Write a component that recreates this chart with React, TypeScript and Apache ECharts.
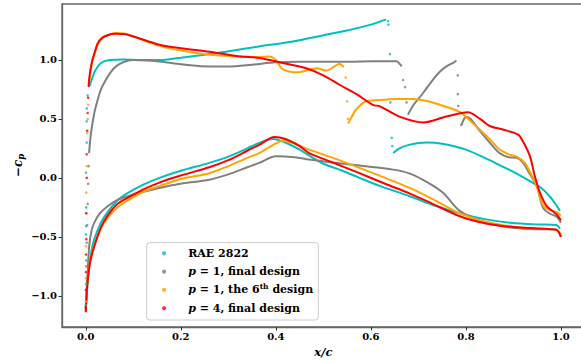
import React, { useEffect, useRef } from "react";
import * as echarts from "echarts";

// ---- tick labels ----
const xTicks = [0, 0.2, 0.4, 0.6, 0.8, 1.0];
const yTicks = [-1.0, -0.5, 0.0, 0.5, 1.0];

// ---- series names / colours ----
const names = ["RAE 2822", "p1final", "p1sixth", "p4final"];
const colors = ["#00bfbf", "#808080", "#ffa500", "#ff0000"];

// ---- RAE 2822 (cyan) ----
const cyanLE = [[0.0, -1.08], [0.0005, -0.9], [0.001, -0.7], [0.0005, -0.48], [0.001, -0.41], [0.001, -0.25], [0.0005, 0.045], [0.002, 0.3], [0.002, 0.48], [0.002, 0.59], [0.004, 0.7]];
const cyanUpper = [[0.008, 0.78], [0.014, 0.85], [0.02, 0.91], [0.032, 0.975], [0.05, 1.0], [0.08, 1.005], [0.12, 1.0], [0.155, 1.0], [0.2, 1.02], [0.25, 1.045], [0.295, 1.07], [0.365, 1.115], [0.436, 1.157], [0.5, 1.21], [0.55, 1.25], [0.6, 1.3], [0.632, 1.345]];
const cyanShock = [[0.636, 1.33], [0.637, 1.3], [0.64, 1.05], [0.641, 0.64], [0.644, 0.34], [0.645, 0.27]];
const cyanAft = [[0.647, 0.21], [0.66, 0.25], [0.68, 0.28], [0.717, 0.3], [0.75, 0.29], [0.8, 0.24], [0.85, 0.15], [0.87, 0.11], [0.9, 0.05], [0.94, -0.04], [0.96, -0.09], [0.977, -0.16], [0.99, -0.23], [0.998, -0.28]];
const cyanLower = [[0.0, -1.12], [0.002, -1.0], [0.004, -0.88], [0.007, -0.76], [0.011, -0.64], [0.018, -0.52], [0.032, -0.38], [0.046, -0.29], [0.067, -0.19], [0.088, -0.13], [0.12, -0.06], [0.155, 0.0], [0.2, 0.06], [0.26, 0.127], [0.3, 0.18], [0.34, 0.25], [0.365, 0.297], [0.394, 0.33], [0.42, 0.3], [0.45, 0.24], [0.47, 0.19], [0.5, 0.12], [0.54, 0.06], [0.576, 0.0], [0.62, -0.07], [0.682, -0.156], [0.73, -0.23], [0.787, -0.3], [0.84, -0.35], [0.893, -0.38], [0.95, -0.395], [0.99, -0.4], [0.998, -0.43]];

// ---- p = 1, final design (gray) ----
const grayLE = [[0.0005, -0.95], [0.001, -0.75], [0.002, -0.55], [0.003, -0.4], [0.004, -0.22], [0.005, -0.05], [0.006, 0.1]];
const grayUpper = [[0.007, 0.21], [0.011, 0.38], [0.018, 0.55], [0.025, 0.66], [0.032, 0.75], [0.042, 0.83], [0.053, 0.9], [0.065, 0.95], [0.081, 0.985], [0.098, 1.0], [0.13, 0.995], [0.18, 0.975], [0.22, 0.955], [0.26, 0.945], [0.3, 0.945], [0.35, 0.96], [0.4, 0.98], [0.45, 0.985], [0.5, 0.985], [0.55, 0.985], [0.6, 0.99], [0.654, 0.99], [0.66, 0.97], [0.665, 0.946]];
const grayShock1 = [[0.668, 0.83], [0.672, 0.77], [0.675, 0.64]];
const grayMid = [[0.678, 0.536], [0.69, 0.62], [0.71, 0.72], [0.73, 0.83], [0.745, 0.9], [0.759, 0.946], [0.775, 0.98], [0.78, 0.997]];
const grayShock2 = [[0.783, 0.87], [0.783, 0.71], [0.784, 0.61], [0.79, 0.45]];
const grayAft = [[0.791, 0.45], [0.796, 0.5], [0.801, 0.517], [0.81, 0.5], [0.829, 0.4], [0.85, 0.3], [0.871, 0.21], [0.89, 0.175], [0.907, 0.17], [0.92, 0.13], [0.935, 0.03], [0.949, -0.07], [0.962, -0.25], [0.975, -0.3], [0.991, -0.33], [1.0, -0.38]];
const grayLower = [[0.0, -1.1], [0.002, -0.95], [0.004, -0.8], [0.006, -0.65], [0.008, -0.55], [0.012, -0.45], [0.018, -0.38], [0.03, -0.3], [0.046, -0.24], [0.065, -0.19], [0.085, -0.16], [0.12, -0.12], [0.155, -0.085], [0.2, -0.05], [0.26, -0.015], [0.3, 0.03], [0.34, 0.09], [0.365, 0.127], [0.4, 0.183], [0.44, 0.175], [0.47, 0.155], [0.52, 0.13], [0.576, 0.104], [0.647, 0.07], [0.682, 0.036], [0.72, -0.04], [0.752, -0.127], [0.787, -0.28], [0.84, -0.38], [0.893, -0.42], [0.95, -0.435], [0.99, -0.44], [1.0, -0.5]];

// ---- p = 1, the 6th design (orange) ----
const orangeLE = [[0.0, -1.05], [0.0, -0.85], [0.0005, -0.58], [0.001, -0.3], [0.001, -0.125], [0.002, 0.1], [0.003, 0.38], [0.004, 0.5], [0.005, 0.62]];
const orangeUpper = [[0.007, 0.8], [0.01, 0.9], [0.014, 0.99], [0.02, 1.07], [0.025, 1.13], [0.035, 1.185], [0.046, 1.21], [0.065, 1.228], [0.08, 1.225], [0.1, 1.2], [0.155, 1.12], [0.2, 1.08], [0.26, 1.045], [0.324, 1.03], [0.36, 1.025], [0.387, 1.03], [0.4, 1.0], [0.415, 0.92], [0.446, 0.895], [0.486, 0.93], [0.506, 0.91], [0.534, 0.966], [0.543, 0.94]];
const orangeShock = [[0.547, 0.85], [0.55, 0.65], [0.552, 0.5]];
const orangeAft = [[0.552, 0.46], [0.56, 0.52], [0.569, 0.58], [0.59, 0.65], [0.619, 0.66], [0.65, 0.67], [0.689, 0.67], [0.72, 0.65], [0.745, 0.62], [0.787, 0.56], [0.81, 0.48], [0.829, 0.41], [0.85, 0.33], [0.871, 0.24], [0.89, 0.2], [0.907, 0.18], [0.924, 0.127], [0.935, 0.05], [0.949, -0.07], [0.962, -0.23], [0.975, -0.27], [0.991, -0.29], [1.0, -0.32]];
const orangeLower = [[0.0, -1.13], [0.001, -1.04], [0.003, -0.91], [0.006, -0.79], [0.01, -0.69], [0.018, -0.57], [0.032, -0.43], [0.046, -0.34], [0.067, -0.25], [0.085, -0.2], [0.12, -0.12], [0.155, -0.07], [0.2, -0.01], [0.26, 0.04], [0.3, 0.1], [0.34, 0.17], [0.365, 0.21], [0.39, 0.27], [0.415, 0.316], [0.44, 0.29], [0.47, 0.24], [0.52, 0.17], [0.576, 0.085], [0.63, 0.0], [0.682, -0.085], [0.73, -0.18], [0.787, -0.3], [0.84, -0.37], [0.893, -0.41], [0.95, -0.43], [0.99, -0.44], [1.0, -0.48]];

// ---- p = 4, final design (red) ----
const redLE = [[0.0, -1.1], [0.0005, -0.95], [0.0005, -0.8], [0.0005, -0.65], [0.001, -0.52], [0.001, -0.3], [0.002, 0.0], [0.002, 0.2], [0.003, 0.4], [0.004, 0.55], [0.005, 0.68]];
const redUpper = [[0.006, 0.77], [0.007, 0.83], [0.01, 0.92], [0.014, 1.0], [0.02, 1.08], [0.025, 1.14], [0.035, 1.19], [0.046, 1.21], [0.06, 1.222], [0.08, 1.22], [0.1, 1.2], [0.155, 1.13], [0.2, 1.1], [0.26, 1.07], [0.324, 1.03], [0.365, 1.017], [0.42, 0.97], [0.464, 0.93], [0.5, 0.87], [0.534, 0.79], [0.57, 0.71], [0.604, 0.62], [0.619, 0.607], [0.66, 0.52], [0.71, 0.47], [0.759, 0.52], [0.804, 0.556], [0.83, 0.5], [0.85, 0.44], [0.878, 0.41], [0.91, 0.367], [0.92, 0.31], [0.935, 0.18], [0.945, 0.014], [0.956, -0.127], [0.97, -0.24], [0.991, -0.31], [1.0, -0.36]];
const redLower = [[0.0, -1.14], [0.001, -1.05], [0.003, -0.92], [0.006, -0.8], [0.01, -0.7], [0.018, -0.58], [0.032, -0.42], [0.046, -0.32], [0.067, -0.22], [0.088, -0.17], [0.12, -0.1], [0.155, -0.04], [0.2, 0.02], [0.26, 0.09], [0.3, 0.15], [0.34, 0.23], [0.365, 0.28], [0.397, 0.347], [0.42, 0.33], [0.45, 0.27], [0.47, 0.21], [0.52, 0.13], [0.576, 0.04], [0.63, -0.05], [0.682, -0.133], [0.73, -0.22], [0.787, -0.325], [0.84, -0.385], [0.893, -0.415], [0.95, -0.43], [0.99, -0.44], [1.0, -0.5]];

const FONT = "DejaVu Serif";

function lineS(name: string, color: string, data: number[][]) {
  return {
    name, type: "line", data, showSymbol: false, symbol: "none", smooth: 0.3,
    lineStyle: { color, width: 2 }, itemStyle: { color }, z: 2,
  };
}
function dotS(name: string, color: string, data: number[][]) {
  return {
    name, type: "scatter", data, symbolSize: 2.6, itemStyle: { color }, z: 2,
  };
}

export default function App() {
  const ref = useRef<HTMLDivElement>(null);
  useEffect(() => {
    if (!ref.current) return;
    const chart = echarts.init(ref.current, undefined, { renderer: "svg" });
    const [n0, n1, n2, n3] = names;
    const [c0, c1, c2, c3] = colors;
    const series = [
      dotS(n0, c0, cyanLE), lineS(n0, c0, cyanUpper), dotS(n0, c0, cyanShock), lineS(n0, c0, cyanAft), lineS(n0, c0, cyanLower),
      dotS(n1, c1, grayLE), lineS(n1, c1, grayUpper), dotS(n1, c1, grayShock1), lineS(n1, c1, grayMid), dotS(n1, c1, grayShock2), lineS(n1, c1, grayAft), lineS(n1, c1, grayLower),
      dotS(n2, c2, orangeLE), lineS(n2, c2, orangeUpper), dotS(n2, c2, orangeShock), lineS(n2, c2, orangeAft), lineS(n2, c2, orangeLower),
      dotS(n3, c3, redLE), lineS(n3, c3, redUpper), lineS(n3, c3, redLower),
    ];
    const base = { fontFamily: FONT, fontWeight: "bold", fontSize: 11, color: "#000", lineHeight: 14 };
    const rich = {
      sp: { ...base, width: 17 },
      n: { ...base },
      i: { ...base, fontStyle: "italic" },
      sup: { ...base, fontSize: 7.5, lineHeight: 8, verticalAlign: "top" },
    };
    chart.setOption({
      animation: false,
      backgroundColor: "#fff",
      grid: { left: 62, top: 4, width: 522.7, height: 323, containLabel: false, outerBoundsMode: "none", show: true, borderColor: "#666", borderWidth: 1.3, backgroundColor: "transparent" },
      xAxis: {
        type: "value", min: -0.05, max: 1.05,
        name: "x/c", nameLocation: "middle", nameGap: 19, nameMoveOverlap: false,
        nameTextStyle: { fontFamily: FONT, fontWeight: "bold", fontStyle: "italic", fontSize: 11.5, color: "#000" },
        axisLine: { show: true, onZero: false, lineStyle: { color: "#666", width: 1.3 } },
        axisTick: { show: true, length: 3.5, customValues: xTicks, lineStyle: { color: "#333" } },
        axisLabel: { customValues: xTicks, margin: 4, fontFamily: FONT, fontWeight: "bold", fontSize: 10, color: "#000", formatter: (v: number) => v.toFixed(1) },
        splitLine: { show: false },
      },
      yAxis: {
        type: "value", min: -1.265, max: 1.475,
        name: "{n|\u2212}{i|c}{sub|p}", nameLocation: "middle", nameGap: 37, nameRotate: 90, nameMoveOverlap: false,
        nameTextStyle: {
          rich: {
            n: { fontFamily: FONT, fontWeight: "bold", fontSize: 12, color: "#000" },
            i: { fontFamily: FONT, fontWeight: "bold", fontStyle: "italic", fontSize: 12, color: "#000" },
            sub: { fontFamily: FONT, fontWeight: "bold", fontStyle: "italic", fontSize: 8.5, color: "#000", verticalAlign: "bottom", padding: [6, 0, 0, 0] },
          },
        },
        axisLine: { show: true, onZero: false, lineStyle: { color: "#666", width: 1.3 } },
        axisTick: { show: true, length: 3.5, customValues: yTicks, lineStyle: { color: "#333" } },
        axisLabel: { customValues: yTicks, margin: 5, fontFamily: FONT, fontWeight: "bold", fontSize: 10, color: "#000", formatter: (v: number) => (v < 0 ? "\u2212" + Math.abs(v).toFixed(1) : v.toFixed(1)) },
        splitLine: { show: false },
      },
      graphic: [
        { type: "rect", z: 1, shape: { x: 146.7, y: 242.7, width: 171.6, height: 77.3, r: 3 }, style: { fill: "rgba(255,255,255,0.85)", stroke: "#cccccc", lineWidth: 1 } },
      ],
      legend: {
        z: 10, orient: "vertical", left: 162, top: 246.3, padding: 0, itemGap: 4.3,
        itemWidth: 4.2, itemHeight: 4.2, icon: "circle",
        data: names.map((nm, k) => ({ name: nm, itemStyle: { color: colors[k] } })),
        textStyle: { ...base, rich },
        formatter: (nm: string) => {
          if (nm === n0) return "{sp| }{n|RAE 2822}";
          if (nm === n1) return "{sp| }{i|p}{n| = 1, final design}";
          if (nm === n2) return "{sp| }{i|p}{n| = 1, the 6}{sup|th}{n| design}";
          return "{sp| }{i|p}{n| = 4, final design}";
        },
      },
      series,
    });
    return () => chart.dispose();
  }, []);
  return <div ref={ref} style={{ position: "absolute", left: 0, top: 0, width: 581, height: 362 }} />;
}
